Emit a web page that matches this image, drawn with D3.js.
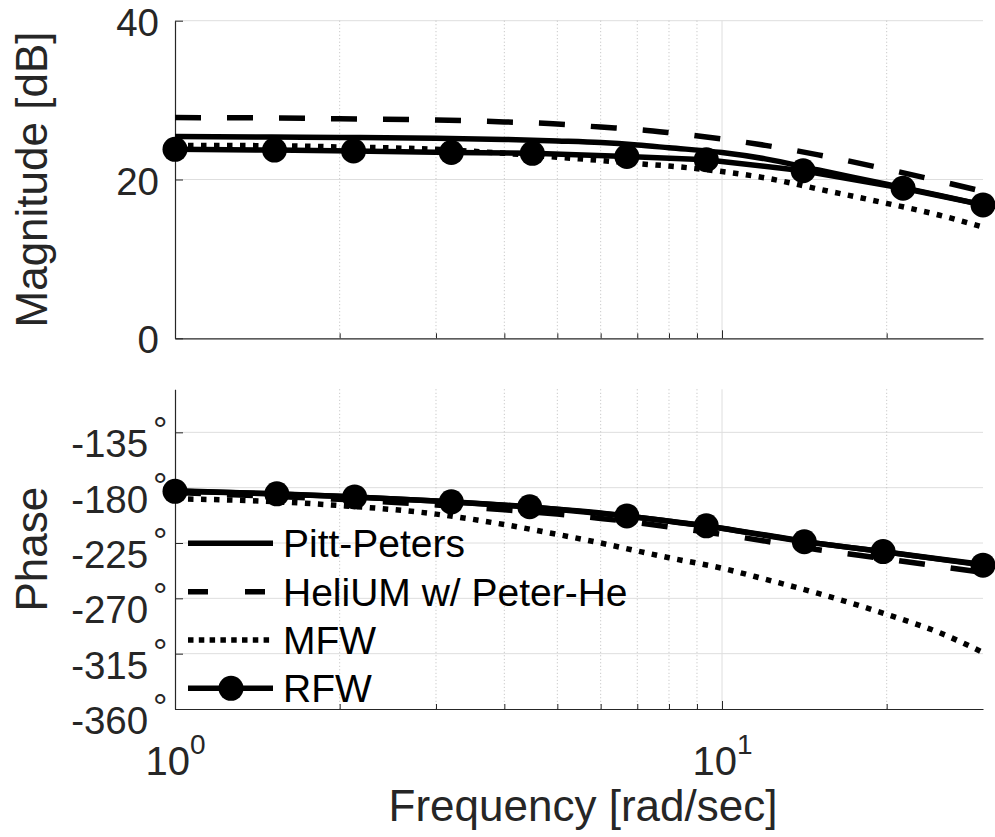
<!DOCTYPE html>
<html><head><meta charset="utf-8">
<script src="https://cdn.jsdelivr.net/npm/d3@7"></script>
<style>
body{margin:0;background:#fff}
svg{display:block}
text{font-family:"Liberation Sans",Arial,Helvetica,sans-serif}
</style>
</head><body>
<svg id="c" width="995" height="837"></svg>
<script>
// ---------------- data ----------------
const freqGrid       = [1, 1.5, 2, 3, 4, 5, 6, 7, 8, 10, 12, 15, 20, 25, 30];
const magPittPeters  = [25.4, 25.35, 25.3, 25.2, 25.05, 24.85, 24.65, 24.35, 24.0, 23.4, 22.6, 21.2, 19.4, 18.0, 16.8];
const magHeliUM      = [27.8, 27.75, 27.65, 27.5, 27.25, 27.0, 26.6, 26.3, 25.9, 25.1, 24.3, 23.1, 21.3, 19.8, 18.5];
const magMFW         = [24.3, 24.25, 24.1, 23.8, 23.3, 22.8, 22.4, 22.0, 21.7, 21.0, 20.2, 18.8, 17.0, 15.5, 14.0];
const magRFWFreq     = [1, 1.52, 2.12, 3.2, 4.5, 6.7, 9.36, 14.07, 21.43, 30];
const magRFW         = [23.8, 23.7, 23.6, 23.4, 23.3, 22.9, 22.5, 21.1, 18.9, 16.8];

const phPittPeters   = [-182.5, -185, -187, -190.8, -194.3, -197.5, -200.5, -204, -207.3, -213, -218.5, -225.3, -232.3, -238, -242.5];
const phHeliUM       = [-184, -187, -189.5, -194, -198, -201.5, -205, -208.5, -212, -218, -223.5, -230.5, -238, -244, -249];
const phMFW          = [-189, -191.3, -194.5, -201.5, -210, -218, -225, -231.5, -237, -245.5, -254.5, -266, -283, -298, -314];
const phRFWFreq      = [1, 1.535, 2.13, 3.2, 4.45, 6.7, 9.36, 14.14, 19.7, 30];
const phRFW          = [-183, -185, -187.5, -191.5, -195.5, -203, -211, -224, -232, -243];

const seriesNames    = ["Pitt-Peters", "HeliUM w/ Peter-He", "MFW", "RFW"];
const magTicks       = [0, 20, 40];
const phaseTicks     = [-360, -315, -270, -225, -180, -135];
const freqMajorTicks = [1, 10];
const freqMinorTicks = [2, 3, 4, 5, 6, 7, 8, 9, 20];
const freqTickExp    = ["0", "1"];

// ---------------- layout ----------------
const svg = d3.select("#c");
const X0 = 175, X1 = 983;
const magTop = 20.7, magBot = 338.3;
const phTop = 389.3, phBot = 709;
const axisColor = "#262626";
const gridColor = "#dedede";
const minorGridColor = "#bdbdbd";
const LW = 5.5;

const x = d3.scaleLog().domain([1, 30]).range([X0, X1]);
const yMag = d3.scaleLinear().domain([0, 40]).range([magBot, magTop]);
const yPh = d3.scaleLinear().domain([-360, -100]).range([phBot, phTop]);

const styles = [
  {dash: null},
  {dash: "26,26"},
  {dash: "5.5,7.5"},
  {dash: null, marker: true}
];

function panel(y, yTicks, top, bot, series, rfwFreq, rfwVals, isPhase) {
  const g = svg.append("g");
  // horizontal grid
  g.selectAll("line.hg").data(yTicks.filter(t => y(t) < bot - 1)).join("line")
    .attr("x1", X0).attr("x2", X1).attr("y1", d => y(d)).attr("y2", d => y(d))
    .attr("stroke", gridColor).attr("stroke-width", 1);
  // vertical grid
  g.selectAll("line.vmg").data(freqMinorTicks).join("line")
    .attr("x1", d => x(d)).attr("x2", d => x(d)).attr("y1", top).attr("y2", bot)
    .attr("stroke", minorGridColor).attr("stroke-width", 1).attr("stroke-dasharray", "1,2.5");
  g.selectAll("line.vMg").data(freqMajorTicks.filter(d => d > 1)).join("line")
    .attr("x1", d => x(d)).attr("x2", d => x(d)).attr("y1", top).attr("y2", bot)
    .attr("stroke", gridColor).attr("stroke-width", 1);

  // axes
  const yAxisG = g.append("g").attr("transform", `translate(${X0},0)`);
  if (isPhase) {
    yAxisG.call(d3.axisLeft(y).tickValues(yTicks).tickSize(-8).tickSizeOuter(0).tickPadding(7.6).tickFormat(d => d));
    yAxisG.selectAll(".tick text").each(function(d) {
      const t = d3.select(this);
      t.text(null).attr("dy", null).attr("y", 24.5).attr("font-size", 38.5).attr("fill", axisColor);
      t.append("tspan").text(String(d));
      t.append("tspan").text("°").attr("font-size", 36).attr("dx", 4.8).attr("dy", -14);
    });
  } else {
    yAxisG.call(d3.axisLeft(y).tickValues(yTicks).tickSize(-8).tickSizeOuter(0).tickPadding(16).tickFormat(d => d));
    yAxisG.selectAll(".tick text").attr("dy", null).attr("y", 14.5).attr("font-size", 38.5).attr("fill", axisColor);
  }
  yAxisG.select(".domain").attr("stroke", axisColor).attr("stroke-width", 1.2);
  yAxisG.selectAll(".tick line").attr("stroke", axisColor);

  const xAxisG = g.append("g").attr("transform", `translate(0,${bot})`);
  xAxisG.call(d3.axisBottom(x).tickValues(freqMajorTicks).tickSize(-8).tickSizeOuter(0).tickFormat(""));
  xAxisG.select(".domain").attr("stroke", axisColor).attr("stroke-width", 1.2);
  xAxisG.selectAll(".tick line").attr("stroke", axisColor);
  const xMinorG = g.append("g").attr("transform", `translate(0,${bot})`);
  xMinorG.call(d3.axisBottom(x).tickValues(freqMinorTicks).tickSize(-5).tickSizeOuter(0).tickFormat(""));
  xMinorG.select(".domain").remove();
  xMinorG.selectAll(".tick line").attr("stroke", axisColor);

  if (isPhase) {
    xAxisG.selectAll(".tick text").each(function(d, i) {
      const t = d3.select(this);
      t.text(null).attr("dy", null).attr("y", 66).attr("font-size", 40).attr("fill", axisColor);
      t.append("tspan").text("10");
      t.append("tspan").text(freqTickExp[i]).attr("font-size", 28).attr("dy", -21);
    });
  }

  // series
  series.forEach((vals, i) => {
    const pts = freqGrid.map((f, k) => [f, vals[k]]);
    g.append("path").datum(pts)
      .attr("d", d3.line().x(d => x(d[0])).y(d => y(d[1])).curve(d3.curveMonotoneX))
      .attr("fill", "none").attr("stroke", "#000").attr("stroke-width", LW)
      .attr("stroke-dasharray", styles[i].dash);
  });
  const rpts = rfwFreq.map((f, k) => [f, rfwVals[k]]);
  g.append("path").datum(rpts)
    .attr("d", d3.line().x(d => x(d[0])).y(d => y(d[1])))
    .attr("fill", "none").attr("stroke", "#000").attr("stroke-width", LW);
  g.selectAll("circle.m").data(rpts).join("circle")
    .attr("cx", d => x(d[0])).attr("cy", d => y(d[1])).attr("r", 12.5).attr("fill", "#000");
  return g;
}

panel(yMag, magTicks, magTop, magBot, [magPittPeters, magHeliUM, magMFW], magRFWFreq, magRFW, false);
panel(yPh, phaseTicks, phTop, phBot, [phPittPeters, phHeliUM, phMFW], phRFWFreq, phRFW, true);

// axis labels
svg.append("text").attr("transform", `translate(46.7,${(magTop + magBot) / 2}) rotate(-90)`)
  .attr("text-anchor", "middle").attr("font-size", 44).attr("fill", axisColor).text("Magnitude [dB]");
svg.append("text").attr("transform", `translate(46.7,${(phTop + phBot) / 2}) rotate(-90)`)
  .attr("text-anchor", "middle").attr("font-size", 44).attr("fill", axisColor).text("Phase");
svg.append("text").attr("x", (X0 + X1) / 2 + 4).attr("y", 821)
  .attr("text-anchor", "middle").attr("font-size", 44).attr("fill", axisColor).text("Frequency [rad/sec]");

// legend
const legRowY = d3.scalePoint().domain(seriesNames).range([543.3, 688.3]);
const legDash = [null, "20,37", "5.5,5.3", null];
const lg = svg.append("g");
seriesNames.forEach((name, i) => {
  const yy = legRowY(name);
  lg.append("line").attr("x1", 188).attr("x2", 273).attr("y1", yy).attr("y2", yy)
    .attr("stroke", "#000").attr("stroke-width", LW).attr("stroke-dasharray", legDash[i]);
  if (i === 3) lg.append("circle").attr("cx", 231).attr("cy", yy).attr("r", 12.5).attr("fill", "#000");
  lg.append("text").attr("x", 283).attr("y", yy + 14).attr("font-size", 39).attr("fill", "#000").text(name);
});
</script>
</body></html>
